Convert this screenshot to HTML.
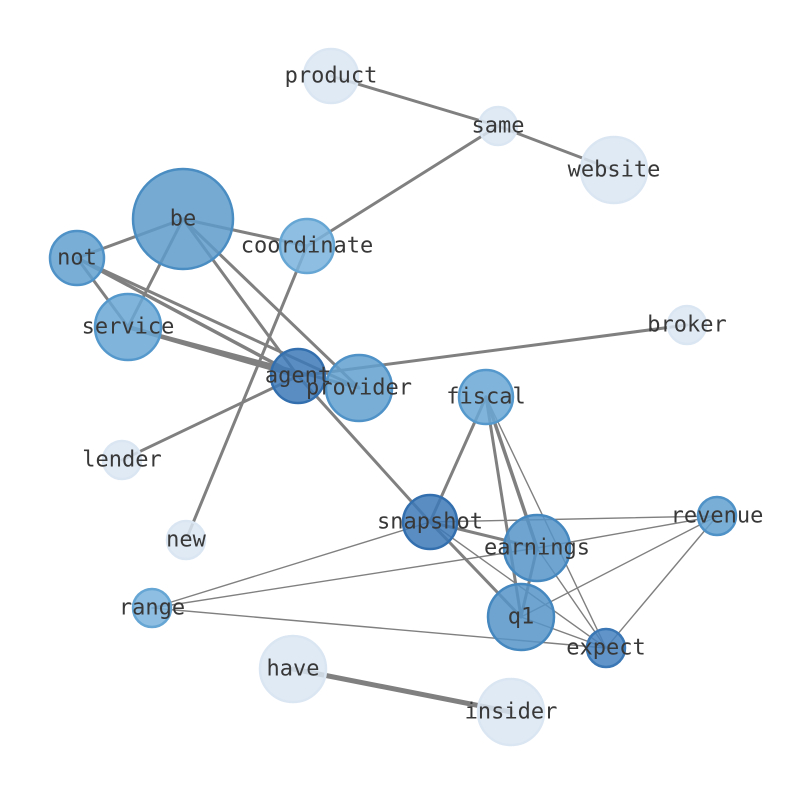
<!DOCTYPE html>
<html><head><meta charset="utf-8"><style>html,body{margin:0;padding:0;background:#fff}svg{display:block}</style></head>
<body>
<svg width="794" height="790" viewBox="0 0 794 790" xmlns="http://www.w3.org/2000/svg">
<g stroke="#808080" stroke-linecap="round" fill="none">
<g stroke-width="3">
<line x1="331" y1="76" x2="498" y2="126"/>
<line x1="498" y1="126" x2="614" y2="170"/>
<line x1="498" y1="126" x2="307" y2="246"/>
<line x1="307" y1="246" x2="183" y2="219"/>
<line x1="307" y1="246" x2="186" y2="540"/>
<line x1="183" y1="219" x2="77" y2="258"/>
<line x1="183" y1="219" x2="128" y2="327"/>
<line x1="183" y1="219" x2="298" y2="376"/>
<line x1="183" y1="219" x2="359" y2="388"/>
<line x1="77" y1="258" x2="128" y2="327"/>
<line x1="77" y1="258" x2="298" y2="376" stroke-width="3.5"/>
<line x1="77" y1="258" x2="359" y2="388"/>
<line x1="128" y1="327" x2="298" y2="376" stroke-width="4.5"/>
<line x1="128" y1="327" x2="359" y2="388"/>
<line x1="298" y1="376" x2="687" y2="325"/>
<line x1="298" y1="376" x2="122" y2="460"/>
<line x1="298" y1="376" x2="430" y2="522"/>
<line x1="430" y1="522" x2="521" y2="617"/>
<line x1="486" y1="397" x2="430" y2="522"/>
<line x1="486" y1="397" x2="537" y2="548" stroke-width="3.5"/>
<line x1="486" y1="397" x2="521" y2="617"/>
<line x1="430" y1="522" x2="537" y2="548"/>
<line x1="537" y1="548" x2="521" y2="617"/>
<line x1="293" y1="669" x2="511" y2="712" stroke-width="5"/>
</g>
<g stroke-width="1.4">
<line x1="486" y1="397" x2="606" y2="648"/>
<line x1="430" y1="522" x2="717" y2="516"/>
<line x1="430" y1="522" x2="152" y2="608"/>
<line x1="430" y1="522" x2="606" y2="648"/>
<line x1="537" y1="548" x2="152" y2="608"/>
<line x1="537" y1="548" x2="717" y2="516"/>
<line x1="537" y1="548" x2="606" y2="648"/>
<line x1="152" y1="608" x2="606" y2="648"/>
<line x1="717" y1="516" x2="521" y2="617"/>
<line x1="717" y1="516" x2="606" y2="648"/>
<line x1="521" y1="617" x2="606" y2="648"/>
</g>
</g>
<g stroke-width="2.5" fill-opacity="0.85">
<circle cx="331" cy="76" r="27" fill="#dbe6f3" stroke="#dbe6f3"/>
<circle cx="498" cy="126" r="19" fill="#dbe6f3" stroke="#dbe6f3"/>
<circle cx="614" cy="170" r="33" fill="#dbe6f3" stroke="#dbe6f3"/>
<circle cx="183" cy="219" r="50" fill="#5e9bcb" stroke="#4a8dc2"/>
<circle cx="307" cy="246" r="27" fill="#7ab3dc" stroke="#66a6d4"/>
<circle cx="77" cy="258" r="27" fill="#62a0d0" stroke="#4f92c7"/>
<circle cx="128" cy="327" r="33" fill="#6aa7d5" stroke="#5599cc"/>
<circle cx="298" cy="376" r="27" fill="#3d7ab8" stroke="#336fae"/>
<circle cx="359" cy="388" r="33" fill="#62a0d0" stroke="#4f92c7"/>
<circle cx="687" cy="325" r="19" fill="#dbe6f3" stroke="#dbe6f3"/>
<circle cx="486" cy="397" r="27" fill="#6aa7d5" stroke="#5599cc"/>
<circle cx="122" cy="460" r="19" fill="#dbe6f3" stroke="#dbe6f3"/>
<circle cx="430" cy="522" r="27" fill="#3d7ab8" stroke="#336fae"/>
<circle cx="537" cy="548" r="33" fill="#5794c8" stroke="#4587bf"/>
<circle cx="717" cy="516" r="19" fill="#62a0d0" stroke="#4f92c7"/>
<circle cx="186" cy="540" r="19" fill="#dbe6f3" stroke="#dbe6f3"/>
<circle cx="152" cy="608" r="19" fill="#7ab3dc" stroke="#66a6d4"/>
<circle cx="521" cy="617" r="33" fill="#5794c8" stroke="#4587bf"/>
<circle cx="606" cy="648" r="19" fill="#4582bf" stroke="#3a77b4"/>
<circle cx="293" cy="669" r="33" fill="#dbe6f3" stroke="#dbe6f3"/>
<circle cx="511" cy="712" r="33" fill="#dbe6f3" stroke="#dbe6f3"/>
</g>
<g font-family="'DejaVu Sans Mono','Liberation Mono',monospace" font-size="22" fill="#383838" text-anchor="middle" dominant-baseline="central">
<text x="331" y="76">product</text>
<text x="498" y="126">same</text>
<text x="614" y="170">website</text>
<text x="183" y="219">be</text>
<text x="307" y="246">coordinate</text>
<text x="77" y="258">not</text>
<text x="128" y="327">service</text>
<text x="298" y="376">agent</text>
<text x="359" y="388">provider</text>
<text x="687" y="325">broker</text>
<text x="486" y="397">fiscal</text>
<text x="122" y="460">lender</text>
<text x="430" y="522">snapshot</text>
<text x="537" y="548">earnings</text>
<text x="717" y="516">revenue</text>
<text x="186" y="540">new</text>
<text x="152" y="608">range</text>
<text x="521" y="617">q1</text>
<text x="606" y="648">expect</text>
<text x="293" y="669">have</text>
<text x="511" y="712">insider</text>
</g>
</svg>
</body></html>
